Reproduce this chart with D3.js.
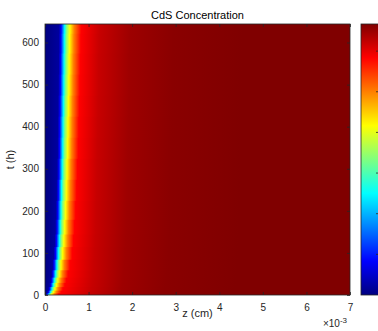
<!DOCTYPE html>
<html>
<head>
<meta charset="utf-8">
<script src="https://cdn.jsdelivr.net/npm/d3@7"></script>
<style>
  html, body { margin: 0; padding: 0; background: #fff; }
  svg { display: block; font-family: "Liberation Sans", Arial, Helvetica, sans-serif; }
</style>
</head>
<body>
<svg id="chart" width="378" height="331"></svg>
<script>
// Sample times (h) at which the concentration front is recorded
const times = [0, 3, 8, 15, 25, 35, 50, 70, 100, 130, 160, 200, 250, 300, 350, 400, 450, 500, 550, 600, 644];

// Depth z (x10^-3 cm) where the normalised CdS concentration reaches each level, per sample time
const zLevel03  = [0.00, 0.025, 0.05, 0.075, 0.10, 0.12, 0.145, 0.17, 0.20, 0.22, 0.235, 0.25, 0.262, 0.275, 0.285, 0.29, 0.298, 0.305, 0.31, 0.316, 0.32];
const zLevel125 = [0.015, 0.05, 0.08, 0.107, 0.134, 0.156, 0.183, 0.21, 0.241, 0.263, 0.279, 0.294, 0.307, 0.321, 0.332, 0.338, 0.346, 0.354, 0.359, 0.365, 0.37];
const zLevel375 = [0.045, 0.095, 0.13, 0.16, 0.19, 0.215, 0.244, 0.274, 0.308, 0.331, 0.348, 0.366, 0.38, 0.395, 0.407, 0.414, 0.423, 0.431, 0.437, 0.444, 0.45];
const zLevel50  = [0.07, 0.12, 0.155, 0.188, 0.22, 0.247, 0.278, 0.31, 0.345, 0.369, 0.387, 0.406, 0.421, 0.436, 0.449, 0.456, 0.466, 0.475, 0.482, 0.489, 0.495];
const zLevel625 = [0.10, 0.155, 0.195, 0.23, 0.265, 0.295, 0.329, 0.365, 0.405, 0.432, 0.453, 0.473, 0.49, 0.505, 0.52, 0.528, 0.538, 0.548, 0.555, 0.563, 0.57];
const zLevel75  = [0.15, 0.215, 0.26, 0.30, 0.34, 0.37, 0.405, 0.445, 0.49, 0.52, 0.54, 0.562, 0.582, 0.597, 0.614, 0.623, 0.634, 0.645, 0.653, 0.662, 0.67];
const zLevel875 = [0.25, 0.315, 0.37, 0.41, 0.455, 0.49, 0.53, 0.575, 0.623, 0.655, 0.679, 0.704, 0.727, 0.745, 0.764, 0.775, 0.788, 0.80, 0.81, 0.821, 0.83];
const zLevel93  = [1.00, 1.02, 1.04, 1.06, 1.08, 1.09, 1.10, 1.12, 1.14, 1.15, 1.16, 1.17, 1.18, 1.19, 1.20, 1.21, 1.22, 1.23, 1.23, 1.24, 1.25];
const zLevel97  = [1.70, 1.72, 1.74, 1.76, 1.78, 1.79, 1.80, 1.82, 1.84, 1.85, 1.86, 1.87, 1.88, 1.89, 1.90, 1.91, 1.92, 1.93, 1.93, 1.94, 1.95];
const zLevel99  = [2.70, 2.72, 2.74, 2.76, 2.78, 2.79, 2.80, 2.82, 2.84, 2.85, 2.86, 2.87, 2.88, 2.89, 2.90, 2.91, 2.92, 2.93, 2.93, 2.94, 2.95];
const zLevel100 = [4.30, 4.32, 4.34, 4.36, 4.38, 4.39, 4.40, 4.42, 4.44, 4.45, 4.46, 4.47, 4.48, 4.49, 4.50, 4.51, 4.52, 4.53, 4.53, 4.54, 4.55];

// Concentration value attached to each contour array above
const levelValues = [0.03, 0.125, 0.375, 0.5, 0.625, 0.75, 0.875, 0.93, 0.97, 0.99, 1.0];
const levelDepths = [zLevel03, zLevel125, zLevel375, zLevel50, zLevel625, zLevel75, zLevel875, zLevel93, zLevel97, zLevel99, zLevel100];

// Axis ticks
const xTicks = [0, 1, 2, 3, 4, 5, 6, 7];
const yTicks = [0, 100, 200, 300, 400, 500, 600];
const colorbarTicks = [0.15, 0.30, 0.45, 0.60, 0.75, 0.90];
const xDomain = [0, 7];
const yDomain = [0, 644];

const svg = d3.select("#chart");
const margin = { left: 45, right: 350, top: 24, bottom: 295 };
const x = d3.scaleLinear().domain(xDomain).range([margin.left, margin.right]);
const y = d3.scaleLinear().domain(yDomain).range([margin.bottom, margin.top]);
const axisColor = "#262626";

// MATLAB-style jet colour map
function jet(v) {
  const c = t => Math.max(0, Math.min(1, t));
  const r = c(1.5 - Math.abs(4 * v - 3));
  const g = c(1.5 - Math.abs(4 * v - 2));
  const b = c(1.5 - Math.abs(4 * v - 1));
  return d3.rgb(r * 255, g * 255, b * 255).formatHex();
}

const defs = svg.append("defs");
defs.append("clipPath").attr("id", "plotClip")
  .append("rect")
  .attr("x", x(xDomain[0])).attr("y", y(yDomain[1]))
  .attr("width", x(xDomain[1]) - x(xDomain[0]))
  .attr("height", y(yDomain[0]) - y(yDomain[1]));

// One horizontal gradient per sample time
times.forEach((t, i) => {
  const g = defs.append("linearGradient")
    .attr("id", "row" + i)
    .attr("gradientUnits", "userSpaceOnUse")
    .attr("x1", x(xDomain[0])).attr("x2", x(xDomain[1]))
    .attr("y1", 0).attr("y2", 0);
  g.append("stop").attr("offset", 0).attr("stop-color", jet(0));
  levelDepths.forEach((arr, k) => {
    const off = (x(arr[i]) - x(xDomain[0])) / (x(xDomain[1]) - x(xDomain[0]));
    g.append("stop").attr("offset", off).attr("stop-color", jet(levelValues[k]));
  });
  g.append("stop").attr("offset", 1).attr("stop-color", jet(1));
});

// Concentration field: one band per sample time, spanning halfway to its neighbours
const field = svg.append("g").attr("clip-path", "url(#plotClip)");
times.forEach((t, i) => {
  const tLo = i === 0 ? yDomain[0] : (times[i - 1] + t) / 2;
  const tHi = i === times.length - 1 ? yDomain[1] : (t + times[i + 1]) / 2;
  field.append("rect")
    .attr("x", x(xDomain[0]))
    .attr("width", x(xDomain[1]) - x(xDomain[0]))
    .attr("y", y(tHi) - 0.5)
    .attr("height", y(tLo) - y(tHi) + 1)
    .attr("fill", "url(#row" + i + ")");
});

// Axes (ticks point inward, box on all four sides)
const fontSize = 10;
const xAxis = svg.append("g").attr("transform", `translate(0,${y(yDomain[0])})`)
  .call(d3.axisBottom(x).tickValues(xTicks).tickFormat(d3.format("d")).tickSizeInner(-3).tickSizeOuter(0).tickPadding(9));
const yAxis = svg.append("g").attr("transform", `translate(${x(xDomain[0])},0)`)
  .call(d3.axisLeft(y).tickValues(yTicks).tickFormat(d3.format("d")).tickSizeInner(-3).tickSizeOuter(0).tickPadding(6));
const xTop = svg.append("g").attr("transform", `translate(0,${y(yDomain[1])})`)
  .call(d3.axisTop(x).tickValues(xTicks).tickFormat("").tickSizeInner(-3).tickSizeOuter(0));
const yRight = svg.append("g").attr("transform", `translate(${x(xDomain[1])},0)`)
  .call(d3.axisRight(y).tickValues(yTicks).tickFormat("").tickSizeInner(-3).tickSizeOuter(0));
[xAxis, yAxis, xTop, yRight].forEach(g => {
  g.select(".domain").remove();
  g.selectAll("line").attr("stroke", axisColor).attr("stroke-width", 0.8);
  g.selectAll("text").attr("fill", axisColor).style("font-size", fontSize + "px")
    .style("font-family", "'Liberation Sans', Arial, sans-serif");
});

svg.append("rect")
  .attr("x", x(xDomain[0])).attr("y", y(yDomain[1]))
  .attr("width", x(xDomain[1]) - x(xDomain[0]))
  .attr("height", y(yDomain[0]) - y(yDomain[1]))
  .attr("fill", "none").attr("stroke", axisColor).attr("stroke-width", 0.8);

// Title and axis labels
svg.append("text")
  .attr("x", (x(xDomain[0]) + x(xDomain[1])) / 2).attr("y", 19)
  .attr("text-anchor", "middle").attr("fill", "#000")
  .style("font-size", "11px").text("CdS Concentration");

svg.append("text")
  .attr("x", (x(xDomain[0]) + x(xDomain[1])) / 2).attr("y", 317)
  .attr("text-anchor", "middle").attr("fill", axisColor)
  .style("font-size", "11px").text("z (cm)");

svg.append("text")
  .attr("transform", `translate(14,${(y(yDomain[0]) + y(yDomain[1])) / 2}) rotate(-90)`)
  .attr("text-anchor", "middle").attr("fill", axisColor)
  .style("font-size", "11px").text("t (h)");

const expo = svg.append("text")
  .attr("x", 347).attr("y", 327)
  .attr("text-anchor", "end").attr("fill", axisColor)
  .style("font-size", fontSize + "px");
expo.append("tspan").text("\u00d710");
expo.append("tspan").attr("dy", -4).style("font-size", "8px").text("-3");

// Colour bar
const cb = { x: 361, w: 18 };
const cScale = d3.scaleLinear().domain([0, 1]).range([margin.bottom, margin.top]);
const cbGrad = defs.append("linearGradient").attr("id", "cbGrad")
  .attr("x1", 0).attr("x2", 0).attr("y1", 1).attr("y2", 0);
[0, 0.125, 0.375, 0.625, 0.875, 1].forEach(v => {
  cbGrad.append("stop").attr("offset", v).attr("stop-color", jet(v));
});
svg.append("rect")
  .attr("x", cb.x).attr("y", cScale(1))
  .attr("width", cb.w).attr("height", cScale(0) - cScale(1))
  .attr("fill", "url(#cbGrad)")
  .attr("stroke", axisColor).attr("stroke-width", 0.8);
svg.append("g").selectAll("line").data(colorbarTicks).join("line")
  .attr("x1", cb.x + cb.w - 3).attr("x2", cb.x + cb.w)
  .attr("y1", d => cScale(d)).attr("y2", d => cScale(d))
  .attr("stroke", axisColor).attr("stroke-width", 0.8);
</script>
</body>
</html>
